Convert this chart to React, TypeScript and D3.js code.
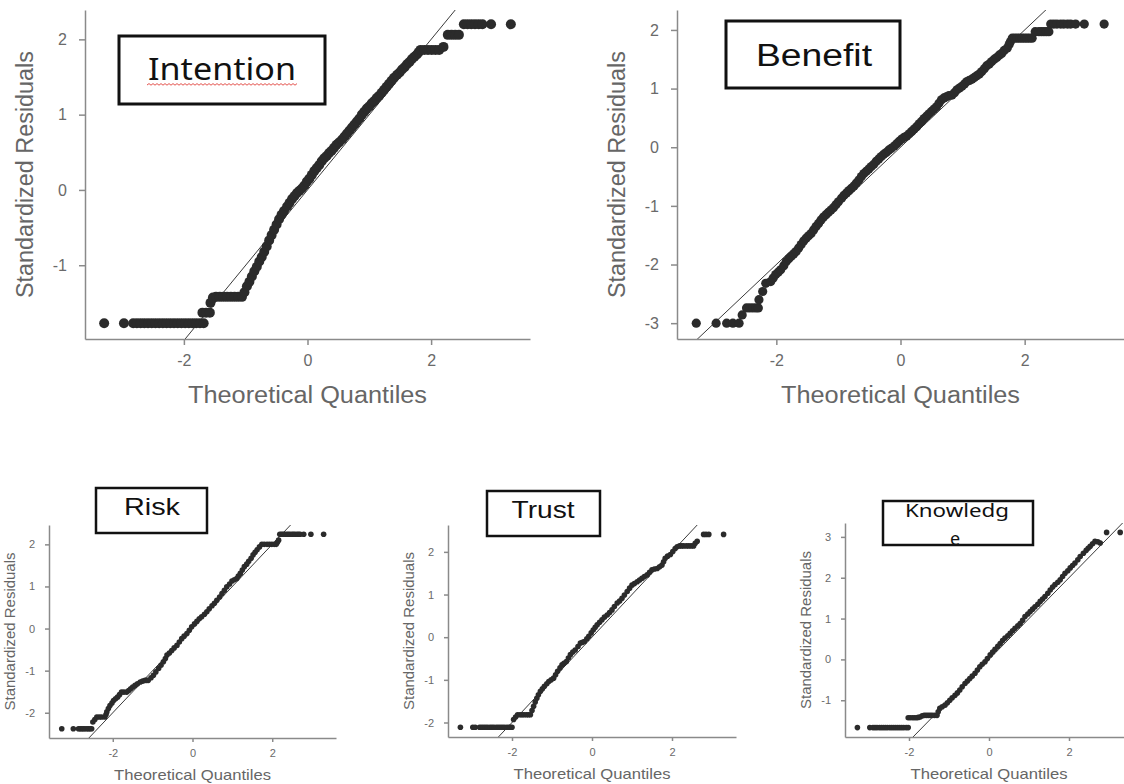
import { useEffect, useRef } from "react";
import * as d3 from "d3";

type Pt = [number, number];

// [theoretical quantile, standardized residual]
const intentionPoints: Pt[] = [
  [-3.29, -1.77], [-2.97, -1.77], [-2.82, -1.77], [-2.76, -1.77], [-2.7, -1.77], [-2.64, -1.77], [-2.58, -1.77],
  [-2.52, -1.77], [-2.46, -1.77], [-2.4, -1.77], [-2.34, -1.77], [-2.28, -1.77], [-2.22, -1.77], [-2.16, -1.77],
  [-2.1, -1.77], [-2.04, -1.77], [-1.98, -1.77], [-1.92, -1.77], [-1.86, -1.77], [-1.8, -1.77], [-1.74, -1.77],
  [-1.68, -1.77], [-1.7, -1.63], [-1.64, -1.63], [-1.58, -1.63], [-1.57, -1.5], [-1.53, -1.43], [-1.48, -1.42],
  [-1.42, -1.42], [-1.36, -1.42], [-1.3, -1.42], [-1.24, -1.42], [-1.18, -1.42], [-1.12, -1.42], [-1.06, -1.42],
  [-1.02, -1.36], [-0.98, -1.28], [-0.94, -1.22], [-0.9, -1.15], [-0.86, -1.08], [-0.82, -1.02], [-0.78, -0.95],
  [-0.74, -0.89], [-0.7, -0.82], [-0.66, -0.75], [-0.62, -0.67], [-0.58, -0.6], [-0.54, -0.53], [-0.5, -0.46],
  [-0.46, -0.39], [-0.42, -0.33], [-0.38, -0.28], [-0.33, -0.22], [-0.29, -0.17], [-0.25, -0.12], [-0.21, -0.08],
  [-0.17, -0.04], [-0.13, -0.01], [-0.09, 0.02], [-0.05, 0.06], [-0.01, 0.11], [0.03, 0.15], [0.07, 0.2],
  [0.11, 0.25], [0.15, 0.29], [0.19, 0.33], [0.23, 0.38], [0.27, 0.42], [0.31, 0.45], [0.35, 0.49], [0.39, 0.52],
  [0.43, 0.56], [0.47, 0.6], [0.51, 0.63], [0.56, 0.67], [0.6, 0.71], [0.64, 0.75], [0.68, 0.79], [0.72, 0.83],
  [0.76, 0.87], [0.8, 0.91], [0.84, 0.95], [0.88, 1.0], [0.92, 1.04], [0.96, 1.08], [1.0, 1.11], [1.04, 1.15],
  [1.08, 1.18], [1.12, 1.22], [1.16, 1.25], [1.2, 1.29], [1.24, 1.33], [1.28, 1.37], [1.32, 1.41], [1.36, 1.45],
  [1.4, 1.49], [1.45, 1.53], [1.49, 1.56], [1.53, 1.6], [1.57, 1.63], [1.61, 1.67], [1.65, 1.7], [1.69, 1.74],
  [1.73, 1.77], [1.77, 1.8], [1.8, 1.83], [1.83, 1.86], [1.89, 1.86], [1.95, 1.86], [2.01, 1.86], [2.07, 1.86],
  [2.13, 1.86], [2.2, 1.9], [2.27, 2.06], [2.33, 2.06], [2.39, 2.06], [2.45, 2.06], [2.53, 2.2], [2.59, 2.2],
  [2.65, 2.2], [2.71, 2.2], [2.77, 2.2], [2.83, 2.2], [2.97, 2.2], [3.29, 2.2],
];

const benefitPoints: Pt[] = [
  [-3.29, -3.0], [-2.97, -3.0], [-2.8, -3.0], [-2.7, -3.0], [-2.6, -3.0], [-2.55, -2.86], [-2.48, -2.74],
  [-2.43, -2.74], [-2.38, -2.74], [-2.33, -2.74], [-2.29, -2.74], [-2.28, -2.6], [-2.22, -2.46], [-2.17, -2.32],
  [-2.09, -2.29], [-2.05, -2.23], [-2.01, -2.17], [-1.97, -2.13], [-1.93, -2.09], [-1.88, -2.02], [-1.84, -1.95],
  [-1.8, -1.9], [-1.76, -1.86], [-1.72, -1.82], [-1.68, -1.78], [-1.64, -1.72], [-1.6, -1.66], [-1.56, -1.6],
  [-1.52, -1.55], [-1.48, -1.51], [-1.44, -1.47], [-1.4, -1.41], [-1.36, -1.35], [-1.32, -1.3], [-1.28, -1.24],
  [-1.24, -1.19], [-1.2, -1.15], [-1.16, -1.11], [-1.12, -1.07], [-1.08, -1.03], [-1.04, -0.98], [-1.0, -0.93],
  [-0.95, -0.87], [-0.91, -0.82], [-0.87, -0.78], [-0.83, -0.74], [-0.79, -0.7], [-0.75, -0.66], [-0.71, -0.61],
  [-0.67, -0.56], [-0.63, -0.5], [-0.59, -0.45], [-0.55, -0.41], [-0.51, -0.37], [-0.47, -0.33], [-0.43, -0.29],
  [-0.39, -0.24], [-0.35, -0.2], [-0.31, -0.16], [-0.27, -0.12], [-0.23, -0.09], [-0.19, -0.05], [-0.15, -0.02],
  [-0.1, 0.02], [-0.06, 0.06], [-0.02, 0.1], [0.02, 0.14], [0.06, 0.17], [0.1, 0.19], [0.14, 0.23], [0.18, 0.27],
  [0.22, 0.31], [0.26, 0.35], [0.3, 0.4], [0.34, 0.44], [0.38, 0.49], [0.42, 0.53], [0.46, 0.57], [0.5, 0.61],
  [0.54, 0.65], [0.58, 0.69], [0.62, 0.75], [0.66, 0.81], [0.7, 0.84], [0.74, 0.86], [0.78, 0.88], [0.83, 0.89],
  [0.87, 0.93], [0.91, 0.98], [0.95, 1.01], [0.99, 1.04], [1.03, 1.08], [1.07, 1.12], [1.11, 1.14], [1.15, 1.16],
  [1.19, 1.19], [1.23, 1.22], [1.27, 1.25], [1.31, 1.29], [1.35, 1.34], [1.39, 1.39], [1.43, 1.42], [1.47, 1.46],
  [1.51, 1.5], [1.55, 1.53], [1.59, 1.57], [1.63, 1.6], [1.67, 1.65], [1.72, 1.69], [1.75, 1.75], [1.77, 1.8],
  [1.8, 1.86], [1.84, 1.86], [1.88, 1.86], [1.92, 1.86], [1.96, 1.86], [2.0, 1.86], [2.04, 1.86], [2.08, 1.86],
  [2.12, 1.86], [2.17, 1.97], [2.23, 1.97], [2.27, 1.97], [2.31, 1.97], [2.35, 1.97], [2.39, 1.97], [2.42, 2.1],
  [2.47, 2.1], [2.52, 2.1], [2.58, 2.1], [2.63, 2.1], [2.69, 2.1], [2.74, 2.1], [2.82, 2.1], [2.96, 2.1],
  [3.28, 2.1],
];

const riskPoints: Pt[] = [
  [-3.28, -2.38], [-2.99, -2.38], [-2.86, -2.38], [-2.82, -2.38], [-2.78, -2.38], [-2.74, -2.38], [-2.7, -2.38],
  [-2.65, -2.38], [-2.61, -2.38], [-2.57, -2.38], [-2.53, -2.38], [-2.5, -2.22], [-2.45, -2.16], [-2.4, -2.1],
  [-2.34, -2.1], [-2.28, -2.1], [-2.2, -2.1], [-2.17, -2.04], [-2.15, -1.98], [-2.11, -1.9], [-2.07, -1.83],
  [-2.02, -1.77], [-1.98, -1.71], [-1.93, -1.67], [-1.88, -1.63], [-1.83, -1.57], [-1.78, -1.51], [-1.72, -1.51],
  [-1.65, -1.51], [-1.6, -1.47], [-1.55, -1.43], [-1.5, -1.39], [-1.44, -1.35], [-1.38, -1.31], [-1.31, -1.27],
  [-1.25, -1.25], [-1.19, -1.23], [-1.15, -1.23], [-1.11, -1.23], [-1.04, -1.17], [-0.98, -1.11], [-0.92, -1.03],
  [-0.85, -0.95], [-0.79, -0.87], [-0.73, -0.79], [-0.68, -0.71], [-0.64, -0.63], [-0.58, -0.58], [-0.52, -0.52],
  [-0.46, -0.46], [-0.39, -0.4], [-0.33, -0.32], [-0.27, -0.24], [-0.21, -0.18], [-0.14, -0.12], [-0.08, -0.04],
  [-0.02, 0.04], [0.05, 0.11], [0.11, 0.17], [0.17, 0.23], [0.23, 0.28], [0.3, 0.34], [0.36, 0.4], [0.42, 0.47],
  [0.49, 0.54], [0.55, 0.6], [0.61, 0.67], [0.68, 0.75], [0.74, 0.83], [0.8, 0.91], [0.86, 0.99], [0.93, 1.06],
  [0.99, 1.13], [1.05, 1.16], [1.11, 1.19], [1.15, 1.25], [1.2, 1.31], [1.25, 1.39], [1.3, 1.47], [1.36, 1.53],
  [1.41, 1.6], [1.47, 1.67], [1.52, 1.75], [1.57, 1.81], [1.62, 1.87], [1.68, 1.94], [1.74, 2.0], [1.8, 2.0],
  [1.87, 2.0], [1.93, 2.0], [1.99, 2.0], [2.05, 2.0], [2.1, 2.0], [2.13, 2.05], [2.16, 2.1], [2.19, 2.24],
  [2.23, 2.24], [2.27, 2.24], [2.31, 2.24], [2.36, 2.24], [2.4, 2.24], [2.44, 2.24], [2.49, 2.24], [2.53, 2.24],
  [2.57, 2.24], [2.62, 2.24], [2.66, 2.24], [2.7, 2.24], [2.79, 2.24], [2.97, 2.24], [3.29, 2.24],
];

const trustPoints: Pt[] = [
  [-3.29, -2.11], [-2.98, -2.11], [-2.92, -2.11], [-2.81, -2.11], [-2.76, -2.11], [-2.71, -2.11], [-2.66, -2.11],
  [-2.61, -2.11], [-2.55, -2.11], [-2.5, -2.11], [-2.45, -2.11], [-2.39, -2.11], [-2.34, -2.11], [-2.29, -2.11],
  [-2.24, -2.11], [-2.19, -2.11], [-2.13, -2.11], [-2.08, -2.11], [-2.04, -2.11], [-2.0, -2.11], [-1.96, -1.93],
  [-1.91, -1.87], [-1.86, -1.82], [-1.8, -1.82], [-1.75, -1.82], [-1.7, -1.82], [-1.64, -1.82], [-1.59, -1.82],
  [-1.54, -1.82], [-1.5, -1.72], [-1.46, -1.62], [-1.42, -1.52], [-1.38, -1.43], [-1.34, -1.35], [-1.29, -1.27],
  [-1.24, -1.21], [-1.19, -1.15], [-1.13, -1.09], [-1.08, -1.04], [-1.02, -1.0], [-0.96, -0.96], [-0.91, -0.88],
  [-0.86, -0.8], [-0.8, -0.72], [-0.75, -0.65], [-0.7, -0.61], [-0.64, -0.57], [-0.59, -0.49], [-0.54, -0.41],
  [-0.48, -0.35], [-0.42, -0.3], [-0.35, -0.22], [-0.29, -0.14], [-0.24, -0.12], [-0.19, -0.1], [-0.13, -0.04],
  [-0.08, 0.02], [-0.02, 0.1], [0.03, 0.17], [0.08, 0.23], [0.13, 0.29], [0.19, 0.35], [0.25, 0.41], [0.31, 0.47],
  [0.38, 0.52], [0.44, 0.58], [0.5, 0.64], [0.56, 0.72], [0.63, 0.8], [0.69, 0.85], [0.75, 0.91], [0.81, 0.99],
  [0.88, 1.07], [0.94, 1.15], [1.0, 1.22], [1.06, 1.26], [1.13, 1.3], [1.19, 1.34], [1.25, 1.38], [1.31, 1.42],
  [1.38, 1.46], [1.44, 1.52], [1.5, 1.58], [1.56, 1.6], [1.63, 1.61], [1.69, 1.65], [1.75, 1.69], [1.79, 1.77],
  [1.83, 1.85], [1.89, 1.9], [1.96, 1.94], [2.02, 2.01], [2.08, 2.08], [2.13, 2.12], [2.19, 2.14], [2.24, 2.14],
  [2.29, 2.14], [2.36, 2.14], [2.42, 2.14], [2.48, 2.14], [2.54, 2.14], [2.58, 2.2], [2.63, 2.25], [2.79, 2.41],
  [2.85, 2.41], [2.92, 2.41], [3.29, 2.41],
];

const knowledgePoints: Pt[] = [
  [-3.29, -1.67], [-2.98, -1.67], [-2.9, -1.67], [-2.85, -1.67], [-2.8, -1.67], [-2.74, -1.67], [-2.69, -1.67],
  [-2.64, -1.67], [-2.59, -1.67], [-2.54, -1.67], [-2.48, -1.67], [-2.43, -1.67], [-2.38, -1.67], [-2.33, -1.67],
  [-2.28, -1.67], [-2.23, -1.67], [-2.18, -1.67], [-2.13, -1.67], [-2.07, -1.67], [-2.02, -1.67], [-2.02, -1.43],
  [-1.97, -1.43], [-1.91, -1.43], [-1.86, -1.43], [-1.81, -1.43], [-1.77, -1.42], [-1.72, -1.41], [-1.67, -1.38],
  [-1.62, -1.37], [-1.57, -1.37], [-1.52, -1.37], [-1.47, -1.37], [-1.42, -1.37], [-1.36, -1.37], [-1.3, -1.37],
  [-1.27, -1.28], [-1.23, -1.2], [-1.17, -1.16], [-1.1, -1.12], [-1.04, -1.06], [-0.98, -1.0], [-0.92, -0.94],
  [-0.85, -0.88], [-0.79, -0.82], [-0.73, -0.75], [-0.67, -0.67], [-0.6, -0.59], [-0.54, -0.53], [-0.48, -0.47],
  [-0.42, -0.41], [-0.35, -0.34], [-0.29, -0.26], [-0.23, -0.18], [-0.17, -0.12], [-0.1, -0.06], [-0.04, 0.02],
  [0.03, 0.11], [0.09, 0.18], [0.15, 0.25], [0.22, 0.32], [0.28, 0.39], [0.34, 0.46], [0.4, 0.52], [0.47, 0.58],
  [0.53, 0.64], [0.59, 0.7], [0.65, 0.76], [0.72, 0.82], [0.78, 0.88], [0.84, 0.96], [0.9, 1.05], [0.97, 1.11],
  [1.03, 1.17], [1.09, 1.23], [1.15, 1.29], [1.22, 1.35], [1.28, 1.42], [1.34, 1.48], [1.4, 1.54], [1.47, 1.62],
  [1.53, 1.7], [1.59, 1.77], [1.65, 1.83], [1.72, 1.89], [1.78, 1.95], [1.84, 2.03], [1.9, 2.11], [1.97, 2.17],
  [2.03, 2.24], [2.09, 2.3], [2.15, 2.36], [2.22, 2.44], [2.28, 2.52], [2.36, 2.6], [2.43, 2.67], [2.48, 2.72],
  [2.53, 2.77], [2.59, 2.83], [2.65, 2.89], [2.72, 2.88], [2.78, 2.85], [2.94, 3.11], [3.28, 3.11],
];

const xTicks = [-2, 0, 2];
const intentionTicks = [-1, 0, 1, 2];
const benefitTicks = [-3, -2, -1, 0, 1, 2];
const riskTicks = [-2, -1, 0, 1, 2];
const trustTicks = [-2, -1, 0, 1, 2];
const knowledgeTicks = [-1, 0, 1, 2, 3];
const xLabel = "Theoretical Quantiles";
const yLabel = "Standardized Residuals";

const big = { r: 4.6, tick: 6, xPad: 10, yPad: 12, tickFont: 16, titleFont: 23, xTitleDy: 64, yTitleDx: 52, xLen: 239, yLen: 247 };
const small = { r: 2.8, tick: 4, xPad: 7, yPad: 10, tickFont: 11, titleFont: 15, xTitleDy: 42, yTitleDx: 34, xLen: 157, yLen: 158 };

const panels = [
  { name: "Intention", pts: intentionPoints, yTicks: intentionTicks, yDom: [-1.98, 2.39], l: 85, r: 530, t: 10, b: 339, s: { ...big, r: 5 } },
  { name: "Benefit", pts: benefitPoints, yTicks: benefitTicks, yDom: [-3.27, 2.34], l: 677, r: 1124, t: 10, b: 339, s: big },
  { name: "Risk", pts: riskPoints, yTicks: riskTicks, yDom: [-2.6, 2.46], l: 49, r: 336, t: 525, b: 738, s: small },
  { name: "Trust", pts: trustPoints, yTicks: trustTicks, yDom: [-2.34, 2.63], l: 448, r: 736, t: 525, b: 737, s: small },
  { name: "Knowledge", pts: knowledgePoints, yTicks: knowledgeTicks, yDom: [-1.9, 3.34], l: 845, r: 1133, t: 523, b: 737, s: small },
];

export default function App() {
  const ref = useRef<SVGSVGElement>(null);

  useEffect(() => {
    const svg = d3.select(ref.current);
    svg.selectAll("*").remove();
    const defs = svg.append("defs");
    const font = "'Liberation Sans', Arial, sans-serif";

    panels.forEach((p, i) => {
      const s = p.s;
      const x = d3.scaleLinear().domain([-3.6, 3.6]).range([p.l, p.r]);
      const y = d3.scaleLinear().domain(p.yDom).range([p.b, p.t]);
      const g = svg.append("g");

      defs.append("clipPath").attr("id", `clip${i}`)
        .append("rect").attr("x", p.l).attr("y", p.t).attr("width", p.r - p.l).attr("height", p.b - p.t);

      // y = x reference line
      g.append("line")
        .attr("clip-path", `url(#clip${i})`)
        .attr("x1", x(-3.6)).attr("y1", y(-3.6))
        .attr("x2", x(3.6)).attr("y2", y(3.6))
        .attr("stroke", "#3a3a3a").attr("stroke-width", 1);

      g.selectAll("circle")
        .data(p.pts)
        .join("circle")
        .attr("cx", (d) => x(d[0]))
        .attr("cy", (d) => y(d[1]))
        .attr("r", s.r)
        .attr("fill", "#2b2b2b");

      const xa = g.append("g")
        .attr("transform", `translate(0,${p.b})`)
        .call(d3.axisBottom(x).tickValues(xTicks).tickSize(s.tick).tickSizeOuter(0).tickPadding(s.xPad).tickFormat((d) => String(d)));
      const ya = g.append("g")
        .attr("transform", `translate(${p.l},0)`)
        .call(d3.axisLeft(y).tickValues(p.yTicks).tickSize(s.tick).tickSizeOuter(0).tickPadding(s.yPad).tickFormat((d) => String(d)));
      [xa, ya].forEach((a) => {
        a.attr("font-family", font).attr("font-size", s.tickFont);
        a.select(".domain").attr("stroke", "#8a8a8a").attr("stroke-width", 1.5);
        a.selectAll(".tick line").attr("stroke", "#8a8a8a").attr("stroke-width", 1.5);
        a.selectAll(".tick text").attr("fill", "#6a6a6a");
      });

      g.append("text")
        .attr("x", x(0)).attr("y", p.b + s.xTitleDy)
        .attr("text-anchor", "middle")
        .attr("font-family", font).attr("font-size", s.titleFont)
        .attr("textLength", s.xLen).attr("lengthAdjust", "spacingAndGlyphs")
        .attr("fill", "#666").text(xLabel);
      g.append("text")
        .attr("transform", `translate(${p.l - s.yTitleDx},${(p.t + p.b) / 2}) rotate(-90)`)
        .attr("text-anchor", "middle")
        .attr("font-family", font).attr("font-size", s.titleFont)
        .attr("textLength", s.yLen).attr("lengthAdjust", "spacingAndGlyphs")
        .attr("fill", "#666").text(yLabel);
    });

    // label boxes pasted over the plots
    const boxes = [
      { text: "Intention", x: 119, y: 36, w: 206, h: 68, cx: 222, by: 80, fs: 30, len: 148, sw: 3, ff: "'Noto Sans', 'Open Sans', sans-serif" },
      { text: "Benefit", x: 726, y: 21, w: 174, h: 67, cx: 814, by: 66, fs: 31, len: 116, sw: 3, ff: font },
      { text: "Risk", x: 96, y: 488, w: 111, h: 45, cx: 152, by: 515, fs: 24, len: 56, sw: 2.5, ff: font },
      { text: "Trust", x: 487, y: 491, w: 113, h: 45, cx: 543, by: 518, fs: 24, len: 63, sw: 2.5, ff: font },
    ];
    boxes.forEach((bx) => {
      svg.append("rect").attr("x", bx.x).attr("y", bx.y).attr("width", bx.w).attr("height", bx.h)
        .attr("fill", "#fff").attr("stroke", "#111").attr("stroke-width", bx.sw);
      svg.append("text").attr("x", bx.cx).attr("y", bx.by).attr("text-anchor", "middle")
        .attr("font-family", bx.ff).attr("font-size", bx.fs)
        .attr("textLength", bx.len).attr("lengthAdjust", "spacingAndGlyphs")
        .attr("fill", "#111").text(bx.text);
    });

    // spell-check squiggle under "Intention"
    let sq = "M147,85";
    for (let px = 149, k = 0; px <= 297; px += 2, k++) sq += ` L${px},${k % 2 ? 85.2 : 83.6}`;
    svg.append("path").attr("d", sq).attr("fill", "none").attr("stroke", "#e0403a").attr("stroke-width", 0.9);

    // Knowledge box with the word wrapped and clipped
    defs.append("clipPath").attr("id", "kclip")
      .append("rect").attr("x", 883).attr("y", 501).attr("width", 150).attr("height", 43);
    svg.append("rect").attr("x", 883).attr("y", 501).attr("width", 150).attr("height", 44)
      .attr("fill", "#fff").attr("stroke", "#111").attr("stroke-width", 2.5);
    const kt = svg.append("g").attr("clip-path", "url(#kclip)")
      .attr("font-family", "'Noto Sans', 'Open Sans', sans-serif").attr("font-size", 18).attr("fill", "#111")
      .attr("text-anchor", "middle");
    kt.append("text").attr("x", 957).attr("y", 517).attr("textLength", 104).attr("lengthAdjust", "spacingAndGlyphs").text("Knowledg");
    kt.append("text").attr("x", 955).attr("y", 545).text("e");
  }, []);

  return (
    <svg ref={ref} width={1124} height={784} style={{ position: "absolute", left: 0, top: 0, background: "#fff" }} />
  );
}
